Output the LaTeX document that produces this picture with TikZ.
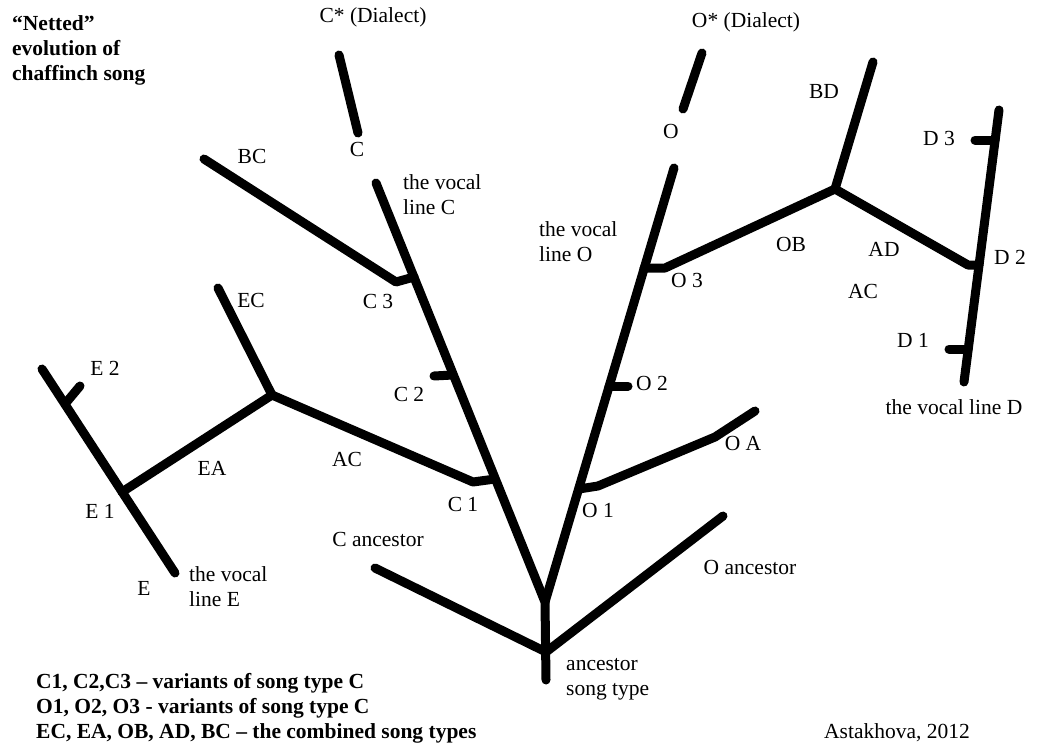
\documentclass[tikz,border=0pt]{standalone}
\usepackage{fontspec}
\setmainfont{Liberation Serif}
\begin{document}
\begin{tikzpicture}[x=1pt,y=-1pt,
  br/.style={line width=9pt,line cap=round,line join=round},
  lbl/.style={inner sep=0pt,anchor=mid,font=\fontsize{21.5}{25}\selectfont},
  ml/.style={inner sep=0pt,anchor=west,align=left,font=\fontsize{21.5}{25}\selectfont},
  bl/.style={inner sep=0pt,anchor=north west,align=left,font=\fontsize{21.5}{25}\selectfont\bfseries}]
\fill[white] (0,0) rectangle (1039,747);
\useasboundingbox (0,0) rectangle (1039,747);

% --- coordinates ---
\coordinate (root) at (545,602);
\coordinate (rootbot) at (546,680);
\coordinate (anc) at (546,652);
\coordinate (Canc) at (375,568);
\coordinate (Oanc) at (723,516);
\coordinate (Ctop) at (376,183);
\coordinate (Otop) at (674,168);
\coordinate (CdA) at (339,55);
\coordinate (CdB) at (358,133);
\coordinate (OdA) at (702,53);
\coordinate (OdB) at (683,109);
% C line points
\coordinate (C3) at (414,277);
\coordinate (C3a) at (396,282);
\coordinate (BCend) at (204,159);
\coordinate (C2) at (453,375);
\coordinate (C2a) at (434,376);
\coordinate (C1) at (495,479);
\coordinate (C1a) at (473,482);
% E part
\coordinate (Ej) at (272,395);
\coordinate (ECend) at (218,288);
\coordinate (Etop) at (42,369);
\coordinate (Ebot) at (175,573);
\coordinate (E1) at (122,492);
\coordinate (E2) at (65,404);
\coordinate (E2a) at (80,386);
% O line points
\coordinate (O3) at (644,268);
\coordinate (O3a) at (665,268);
\coordinate (O2) at (609,386);
\coordinate (O2a) at (628,386);
\coordinate (O1) at (579,489);
\coordinate (OAa) at (598,486);
\coordinate (OAb) at (715,437);
\coordinate (OAend) at (755,411);
% D part
\coordinate (Oj) at (835,189);
\coordinate (BDend) at (873,62);
\coordinate (ADa) at (968,265);
\coordinate (D2) at (979,265);
\coordinate (Dtop) at (999,110);
\coordinate (Dbot) at (964,382);
\coordinate (D3) at (995,140);
\coordinate (D3a) at (975,140);
\coordinate (D1) at (968,349);
\coordinate (D1a) at (949,349);

% --- branches ---
\draw[br] (Ctop) -- (root) -- (rootbot);
\draw[br] (Otop) -- (root);
\draw[br] (Canc) -- (anc) -- (Oanc);
\draw[br] (CdA) -- (CdB);
\draw[br] (OdA) -- (OdB);
\draw[br] (BCend) -- (C3a) -- (C3);
\draw[br] (C2a) -- (C2);
\draw[br] (Ej) -- (C1a) -- (C1);
\draw[br] (ECend) -- (Ej) -- (E1);
\draw[br] (Etop) -- (Ebot);
\draw[br] (E2) -- (E2a);
\draw[br] (O3) -- (O3a) -- (Oj);
\draw[br] (O2) -- (O2a);
\draw[br] (O1) -- (OAa) -- (OAb) -- (OAend);
\draw[br] (BDend) -- (Oj) -- (ADa) -- (D2);
\draw[br] (Dtop) -- (Dbot);
\draw[br] (D3a) -- (D3);
\draw[br] (D1a) -- (D1);

% --- labels ---
\node[bl] (title) at (12,15) {``Netted''\\evolution of\\chaffinch song};
\node[lbl] (lCd) at (373,20) {C* (Dialect)};
\node[lbl] (lOd) at (746,25) {O* (Dialect)};
\node[lbl] (lC) at (357,154) {C};
\node[lbl] (lO) at (671,136) {O};
\node[lbl] (lBC) at (252,161) {BC};
\node[lbl] (lBD) at (824,96) {BD};
\node[lbl] (lD3) at (939,143) {D 3};
\node[ml] (lvC) at (403,195) {the vocal\\line C};
\node[ml] (lvO) at (539,242) {the vocal\\line O};
\node[ml] (lvE) at (189,587) {the vocal\\line E};
\node[lbl] (lvD) at (954,412) {the vocal line D};
\node[lbl] (lC3) at (378,306) {C 3};
\node[lbl] (lC2) at (409,399) {C 2};
\node[lbl] (lC1) at (463,509) {C 1};
\node[lbl] (lO3) at (687,285) {O 3};
\node[lbl] (lO2) at (652,388) {O 2};
\node[lbl] (lO1) at (598,515) {O 1};
\node[lbl] (lOA) at (743,448) {O A};
\node[lbl] (lOB) at (791,249) {OB};
\node[lbl] (lAD) at (884,254) {AD};
\node[lbl] (lAC2) at (863,296) {AC};
\node[lbl] (lD2) at (1010,262) {D 2};
\node[lbl] (lD1) at (913,345) {D 1};
\node[lbl] (lEC) at (251,305) {EC};
\node[lbl] (lE2) at (105,373) {E 2};
\node[lbl] (lEA) at (212,473) {EA};
\node[lbl] (lAC) at (347,464) {AC};
\node[lbl] (lE1) at (100,516) {E 1};
\node[lbl] (lE) at (144,593) {E};
\node[lbl] (lCanc) at (378,544) {C ancestor};
\node[lbl] (lOanc) at (750,572) {O ancestor};
\node[ml] (lroot) at (566,679) {ancestor\\song type};
\node[lbl] (lauth) at (897,736) {Astakhova, 2012};
\node[bl] (legend) at (36,673) {C1, C2,C3 -- variants of song type C\\O1, O2, O3 - variants of song type C\\EC, EA, OB, AD, BC -- the combined song types};
\end{tikzpicture}
\end{document}
